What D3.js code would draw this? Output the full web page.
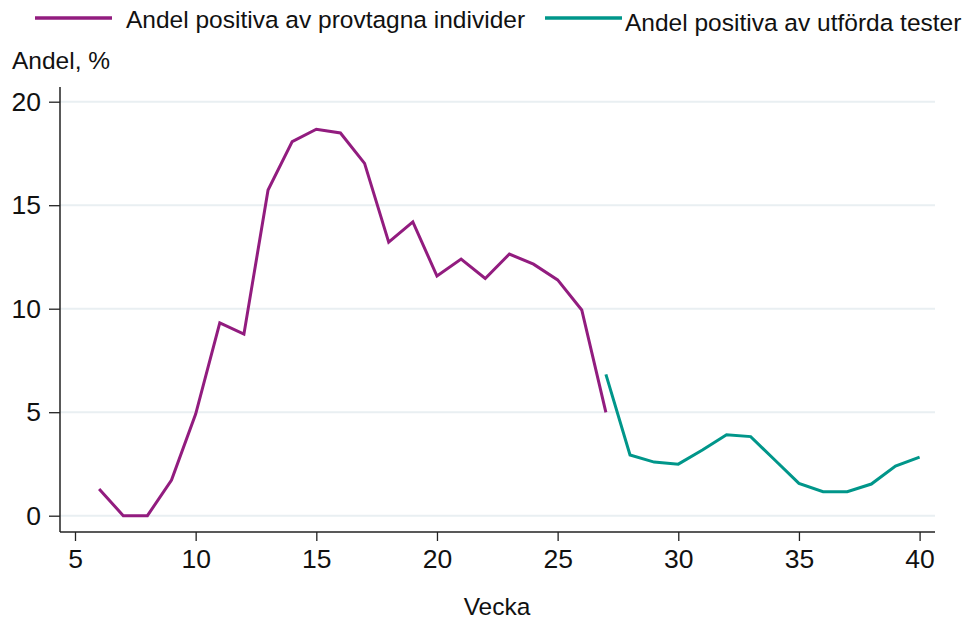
<!DOCTYPE html>
<html><head><meta charset="utf-8">
<script src="https://cdn.jsdelivr.net/npm/d3@7"></script>
<style>body{margin:0;background:#fff}svg{display:block}text{font-family:"Liberation Sans",Arial,sans-serif;fill:#111}</style>
</head><body><svg id="c" width="968" height="619"></svg>
<script>
const weeksA = [6,7,8,9,10,11,12,13,14,15,16,17,18,19,20,21,22,23,24,25,26,27];
const valuesA = [1.29,0,0,1.72,4.91,9.31,8.77,15.73,18.07,18.67,18.49,17.02,13.21,14.19,11.58,12.40,11.46,12.64,12.15,11.39,9.94,4.99];
const weeksB = [27,28,29,30,31,32,33,34,35,36,37,38,39,40];
const valuesB = [6.83,2.93,2.59,2.49,3.17,3.91,3.82,2.69,1.56,1.16,1.16,1.53,2.40,2.83];
const xTicks = [5,10,15,20,25,30,35,40];
const yTicks = [0,5,10,15,20];
const seriesNames = ["Andel positiva av provtagna individer","Andel positiva av utförda tester"];
const colors = ["#921c7f","#00968a"];

const svg = d3.select("#c");
const mLeft = 60, mRight = 935, mTop = 87, mBottom = 532;
const x = d3.scaleLinear().domain([5,40]).range([75,919.6]);
const y = d3.scaleLinear().domain([0,20]).range([515.7,101.7]);

// grid
svg.append("g").selectAll("line").data(yTicks).join("line")
  .attr("x1",mLeft).attr("x2",mRight).attr("y1",d=>y(d)).attr("y2",d=>y(d))
  .attr("stroke","#e9eff2").attr("stroke-width",2);

// y axis
const ya = svg.append("g").attr("transform",`translate(${mLeft},0)`)
  .call(d3.axisLeft(y).tickValues(yTicks).tickSize(11).tickPadding(8).tickSizeOuter(0));
ya.select(".domain").remove();
ya.selectAll(".tick line").attr("stroke","#222").attr("stroke-width",1.3);
ya.selectAll(".tick text").attr("font-size",26.5).attr("fill","#111").attr("font-family","Liberation Sans, Arial, sans-serif");
svg.append("line").attr("x1",mLeft).attr("x2",mLeft).attr("y1",mTop).attr("y2",mBottom).attr("stroke","#222").attr("stroke-width",1.5);

// x axis
const xa = svg.append("g").attr("transform",`translate(0,${mBottom})`)
  .call(d3.axisBottom(x).tickValues(xTicks).tickSize(9).tickPadding(8).tickSizeOuter(0));
xa.select(".domain").remove();
xa.selectAll(".tick line").attr("stroke","#222").attr("stroke-width",1.3);
xa.selectAll(".tick text").attr("font-size",26.5).attr("fill","#111").attr("font-family","Liberation Sans, Arial, sans-serif");
svg.append("line").attr("x1",mLeft).attr("x2",mRight).attr("y1",mBottom).attr("y2",mBottom).attr("stroke","#222").attr("stroke-width",1.5);

// lines
const line = d3.line().x(d=>x(d[0])).y(d=>y(d[1]));
svg.append("path").datum(d3.zip(weeksA,valuesA)).attr("d",line)
  .attr("fill","none").attr("stroke",colors[0]).attr("stroke-width",3);
svg.append("path").datum(d3.zip(weeksB,valuesB)).attr("d",line)
  .attr("fill","none").attr("stroke",colors[1]).attr("stroke-width",3);

// titles
svg.append("text").attr("x",497).attr("y",615).attr("text-anchor","middle").attr("font-size",24.5).text("Vecka");
svg.append("text").attr("x",12).attr("y",69).attr("font-size",24.5).text("Andel, %");

// legend
const leg = [{lx:35,tx:126,ty:28},{lx:545,tx:625,ty:31}];
leg.forEach((l,i)=>{
  svg.append("line").attr("x1",l.lx).attr("x2",l.lx+77).attr("y1",18).attr("y2",18).attr("stroke",colors[i]).attr("stroke-width",3.5);
  svg.append("text").attr("x",l.tx).attr("y",l.ty).attr("font-size",24.5).text(seriesNames[i]);
});
</script></body></html>
